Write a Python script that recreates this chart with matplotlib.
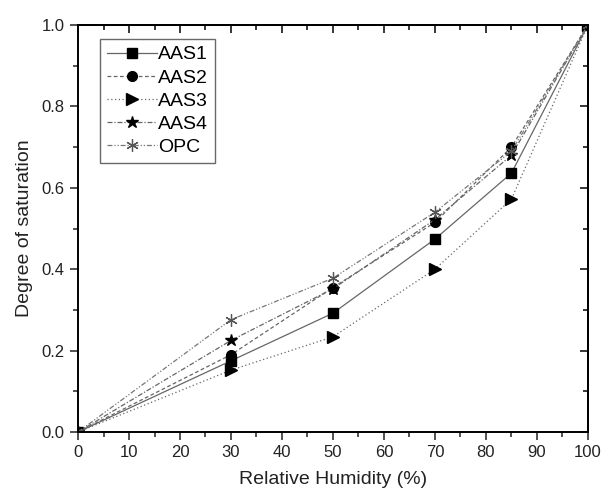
import matplotlib
matplotlib.use("Agg")
import matplotlib.pyplot as plt
from matplotlib.lines import Line2D
from matplotlib.ticker import MultipleLocator, FormatStrFormatter

plt.rcParams["font.family"] = ["Liberation Sans", "DejaVu Sans"]

# Data
humidity = [0, 30, 50, 70, 85, 100]
aas1 = [0.0, 0.175, 0.292, 0.474, 0.636, 1.0]
aas2 = [0.0, 0.190, 0.355, 0.515, 0.700, 1.0]
aas3 = [0.0, 0.152, 0.234, 0.400, 0.572, 1.0]
aas4 = [0.0, 0.225, 0.352, 0.522, 0.680, 1.0]
opc = [0.0, 0.276, 0.378, 0.540, 0.690, 1.0]

series = [
    ("AAS1", aas1, "s", "-", 7),
    ("AAS2", aas2, "o", (0, (3, 2)), 7),
    ("AAS3", aas3, ">", (0, (1, 2)), 8),
    ("AAS4", aas4, "*", (0, (4, 1.5, 1, 1.5)), 9),
    ("OPC", opc, (6, 2, 0), (0, (4, 1.5, 1, 1.5, 1, 1.5)), 9),
]

fig = plt.figure(figsize=(6.02, 4.96), dpi=100)
ax = fig.add_axes([0.1296, 0.129, 0.847, 0.8206])

handles = []
for name, vals, mk, ls, ms in series:
    if name == "OPC":
        # asterisk-like marker, drawn grey as in the original
        kw = dict(color="#777777", markeredgecolor="#555555",
                  markeredgewidth=0.9)
    else:
        kw = dict(color="#666666", markerfacecolor="black",
                  markeredgecolor="black")
    ax.plot(humidity, vals, linestyle=ls, linewidth=0.9, marker=mk,
            markersize=ms, **kw)
    handles.append(Line2D([], [], linestyle=ls, linewidth=0.9, marker=mk,
                          markersize=ms, **kw))

leg = ax.legend(handles, [s[0] for s in series], loc="upper left",
                bbox_to_anchor=(0.035, 0.975), fontsize=14, frameon=True,
                fancybox=False, edgecolor="#444444", handlelength=2.6,
                handletextpad=0.05, labelspacing=0.28, borderpad=0.35,
                borderaxespad=0.2)
leg.get_frame().set_linewidth(1.0)

ax.set_xlim(0, 100)
ax.set_ylim(0, 1.0)
ax.xaxis.set_major_locator(MultipleLocator(10))
ax.xaxis.set_minor_locator(MultipleLocator(5))
ax.yaxis.set_major_locator(MultipleLocator(0.2))
ax.yaxis.set_minor_locator(MultipleLocator(0.1))
ax.yaxis.set_major_formatter(FormatStrFormatter("%.1f"))

ax.tick_params(which="both", direction="out", top=False, right=False,
               labelsize=12, colors="#222222")
ax.tick_params(which="major", length=6, width=1.1)
ax.tick_params(which="minor", length=3.5, width=1.1)

# inward ticks mirrored on top and right
sec_x = ax.secondary_xaxis("top")
sec_x.xaxis.set_major_locator(MultipleLocator(10))
sec_x.xaxis.set_minor_locator(MultipleLocator(5))
sec_x.tick_params(which="both", direction="in", labeltop=False)
sec_x.tick_params(which="major", length=6, width=1.1)
sec_x.tick_params(which="minor", length=3.5, width=1.1)
sec_y = ax.secondary_yaxis("right")
sec_y.yaxis.set_major_locator(MultipleLocator(0.2))
sec_y.yaxis.set_minor_locator(MultipleLocator(0.1))
sec_y.tick_params(which="both", direction="in", labelright=False)
sec_y.tick_params(which="major", length=6, width=1.1)
sec_y.tick_params(which="minor", length=3.5, width=1.1)

for sp in ax.spines.values():
    sp.set_linewidth(1.4)
for sec in (sec_x, sec_y):
    for sp in sec.spines.values():
        sp.set_linewidth(1.4)

ax.set_xlabel("Relative Humidity (%)", fontsize=14, color="#222222", labelpad=8)
ax.set_ylabel("Degree of saturation", fontsize=14, color="#222222", labelpad=6)

fig.savefig("out.png", dpi=100)
